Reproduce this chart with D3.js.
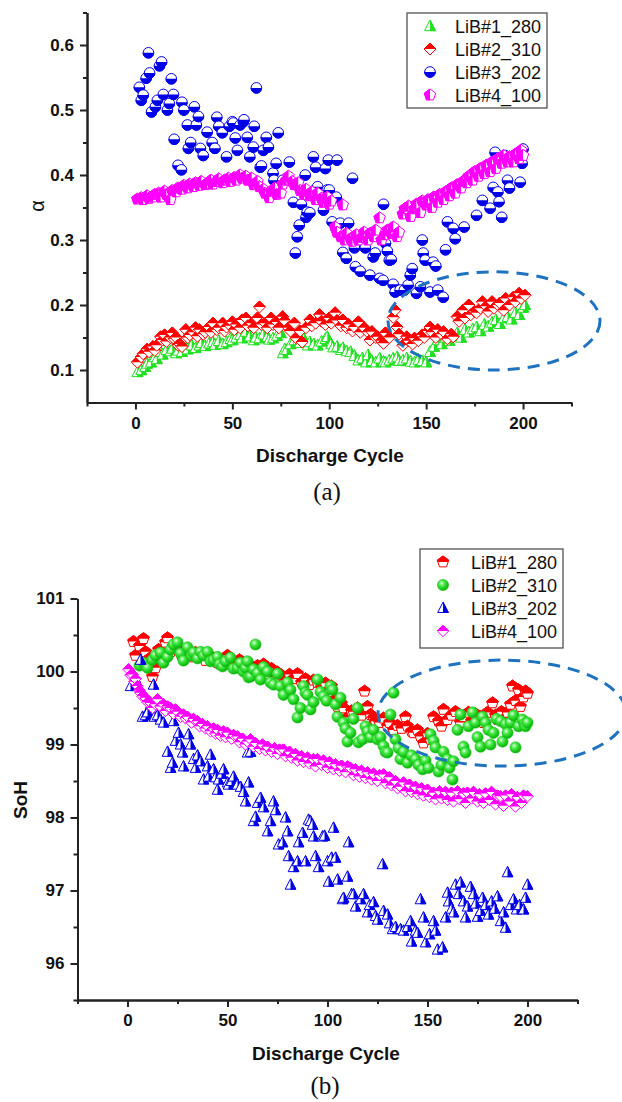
<!DOCTYPE html>
<html><head><meta charset="utf-8">
<script src="https://cdn.jsdelivr.net/npm/d3@7"></script>
<style>body{margin:0;background:#fff}svg{display:block}
text{font-family:'Liberation Sans', Arial, sans-serif;}
.tick text{font-weight:bold;}</style>
</head><body>
<svg id="chart" width="622" height="1102"></svg>
<script>
// ---------- tick labels / categories ----------
const cycleTicks = [0, 50, 100, 150, 200];
const cycleMinor = [-25, 25, 75, 125, 175, 225];
const alphaTicks = [0.1, 0.2, 0.3, 0.4, 0.5, 0.6];
const alphaMinor = [0.15, 0.25, 0.35, 0.45, 0.55, 0.65];
const sohTicks = [96, 97, 98, 99, 100, 101];
const sohMinor = [95.5, 96.5, 97.5, 98.5, 99.5, 100.5];
const batteryNames = ["LiB#1_280", "LiB#2_310", "LiB#3_202", "LiB#4_100"];

// ---------- (a) alpha vs discharge cycle ----------
const alphaLiB1 = [[1,.097],[3,.100],[5,.105],[6,.110],[8,.112],[10,.120],[11,.117],[13,.128],[14,.124],[16,.131],[18,.129],[19,.133],[21,.126],[22,.130],[24,.128],[26,.136],[27,.132],[29,.138],[31,.134],[33,.138],[34,.142],[36,.137],[38,.141],[40,.143],[41,.139],[43,.145],[45,.140],[47,.143],[49,.148],[50,.146],[52,.150],[54,.154],[55,.149],[57,.159],[59,.152],[61,.146],[62,.150],[64,.149],[66,.155],[68,.151],[69,.147],[71,.149],[73,.153],[75,.157],[76,.126],[77,.132],[78,.131],[80,.140],[82,.146],[84,.146],[85,.142],[87,.148],[89,.138],[90,.143],[92,.140],[94,.138],[96,.144],[98,.148],[99,.151],[101,.140],[102,.135],[104,.136],[106,.131],[107,.134],[109,.129],[111,.128],[113,.122],[115,.115],[117,.118],[119,.112],[120,.123],[122,.114],[124,.112],[126,.118],[128,.113],[129,.112],[131,.115],[133,.118],[135,.120],[136,.114],[138,.115],[140,.118],[142,.113],[144,.112],[146,.116],[148,.114],[150,.112],[152,.128],[154,.136],[156,.146],[158,.140],[160,.150],[162,.145],[164,.152],[166,.157],[168,.150],[170,.162],[172,.158],[174,.163],[176,.166],[178,.160],[180,.170],[182,.167],[184,.173],[186,.177],[188,.171],[190,.180],[192,.182],[194,.178],[196,.188],[198,.185],[200,.196],[201,.200]];
const alphaLiB2 = [[1,.112],[3,.120],[4,.125],[6,.132],[7,.128],[9,.136],[10,.130],[11,.138],[13,.151],[14,.146],[15,.154],[16,.144],[18,.150],[19,.157],[20,.148],[21,.150],[22,.138],[23,.140],[24,.136],[26,.162],[27,.150],[28,.154],[30,.158],[31,.165],[32,.152],[33,.162],[35,.155],[36,.158],[38,.166],[39,.158],[40,.172],[42,.162],[43,.165],[45,.172],[46,.160],[47,.166],[49,.168],[50,.174],[51,.162],[52,.170],[54,.165],[55,.177],[57,.180],[58,.168],[60,.172],[61,.165],[63,.180],[64,.197],[65,.170],[67,.172],[68,.165],[70,.180],[71,.170],[73,.174],[74,.165],[76,.182],[77,.176],[79,.165],[80,.160],[82,.172],[83,.149],[85,.160],[86,.143],[88,.165],[90,.177],[91,.168],[93,.172],[95,.185],[96,.175],[98,.170],[100,.180],[101,.172],[103,.188],[104,.176],[106,.168],[107,.177],[109,.165],[110,.170],[112,.160],[113,.166],[115,.174],[116,.158],[118,.165],[120,.158],[121,.146],[122,.159],[124,.150],[125,.151],[127,.145],[128,.141],[129,.157],[131,.150],[133,.181],[134,.192],[135,.166],[136,.155],[138,.138],[140,.151],[141,.145],[143,.140],[144,.149],[146,.145],[148,.154],[149,.150],[151,.160],[152,.166],[153,.158],[155,.150],[156,.162],[158,.155],[159,.159],[161,.148],[163,.155],[164,.151],[166,.182],[167,.175],[169,.192],[170,.180],[172,.200],[173,.185],[175,.190],[176,.188],[178,.195],[179,.205],[181,.198],[182,.190],[184,.205],[185,.195],[187,.200],[188,.203],[190,.192],[191,.210],[193,.200],[195,.212],[196,.205],[198,.218],[199,.210],[201,.215]];
const alphaLiB3 = [[2,.535],[3,.515],[4,.523],[5.5,.549],[6.7,.588],[7.3,.557],[8.3,.497],[10.3,.505],[11.3,.515],[12.4,.568],[13.5,.574],[14.4,.524],[16.5,.500],[17.5,.510],[18.5,.548],[19.6,.524],[20,.455],[22,.415],[23.7,.408],[24,.512],[25,.500],[26.8,.477],[27.3,.441],[28.5,.450],[30.4,.505],[31.4,.477],[32.5,.490],[33.5,.441],[35,.430],[37,.466],[39.6,.450],[41,.441],[42,.489],[43,.475],[44.8,.465],[47,.428],[48.5,.475],[50,.482],[50.5,.480],[51.5,.457],[52.6,.438],[54,.477],[55.7,.482],[56,.485],[57.7,.458],[59,.428],[60.8,.443],[61.3,.475],[62.4,.534],[64.4,.412],[65,.414],[66,.438],[67.5,.458],[68.6,.443],[71,.403],[71.5,.392],[72.6,.418],[73.7,.465],[75.8,.389],[76,.392],[79.4,.420],[81.5,.358],[82.5,.280],[83.5,.305],[84.5,.323],[85.6,.355],[87.6,.400],[88,.335],[88.6,.343],[90,.342],[91.8,.428],[93,.412],[94,.382],[97,.346],[98,.410],[99,.377],[99.5,.423],[100,.377],[101.5,.328],[103.6,.366],[104,.423],[105.7,.326],[107,.281],[108.8,.272],[110,.326],[112,.395],[113,.288],[113.5,.259],[116,.252],[118.6,.288],[121,.246],[122.7,.274],[123.7,.280],[126,.241],[127.8,.238],[128,.355],[129,.295],[130,.283],[131,.269],[132,.270],[133,.232],[134,.220],[136.6,.223],[138.7,.223],[140.7,.231],[141.8,.246],[142.8,.256],[145,.218],[147,.228],[148,.300],[148.5,.280],[149.5,.269],[152,.220],[153.6,.266],[155,.260],[156,.223],[158.8,.212],[160,.285],[161,.328],[164,.318],[165,.302],[169.6,.320],[176,.338],[179,.361],[183,.349],[184.6,.381],[185.6,.435],[187,.374],[187.6,.359],[189,.335],[190.7,.430],[192,.392],[193,.380],[197,.428],[198.5,.389],[199.5,.418],[200,.440]];
const alphaLiB4 = [[1,.363],[3,.365],[4,.362],[6,.368],[7,.364],[9,.366],[10,.370],[12,.372],[13,.366],[15,.375],[16,.370],[18,.362],[19,.376],[21,.374],[22,.380],[24,.378],[25,.384],[27,.380],[28,.386],[30,.382],[31,.388],[33,.384],[34,.390],[36,.385],[37,.387],[39,.392],[40,.386],[42,.390],[43,.394],[45,.388],[46,.392],[48,.395],[49,.390],[51,.396],[52,.392],[54,.400],[55,.395],[57,.398],[58,.392],[60,.395],[61,.385],[63,.390],[64,.382],[66,.378],[67,.372],[69,.365],[70,.375],[72,.380],[73,.370],[75,.372],[76,.386],[78,.392],[79,.398],[81,.390],[82,.385],[84,.388],[85,.376],[87,.370],[88,.378],[90,.368],[91,.374],[93,.362],[94,.372],[96,.364],[97,.358],[99,.366],[100,.355],[101,.360],[103,.320],[104,.312],[106,.305],[107,.354],[108,.300],[109,.310],[111,.302],[112,.298],[114,.308],[115,.300],[117,.304],[118,.312],[120,.300],[121,.310],[123,.305],[124,.315],[126,.334],[127,.300],[129,.308],[130,.315],[132,.310],[133,.320],[135,.305],[136,.312],[138,.340],[139,.348],[141,.352],[142,.336],[144,.348],[145,.355],[147,.342],[148,.360],[150,.354],[151,.362],[153,.350],[154,.366],[156,.358],[157,.370],[159,.362],[160,.374],[162,.368],[163,.380],[165,.372],[166,.385],[168,.380],[169,.390],[171,.388],[172,.398],[174,.392],[175,.405],[177,.398],[178,.410],[180,.402],[181,.415],[183,.405],[184,.420],[186,.410],[187,.425],[189,.418],[190,.430],[192,.420],[193,.428],[195,.420],[196,.432],[198,.425],[199,.438],[200,.430]];

// ---------- (b) SoH vs discharge cycle ----------
const sohLiB1 = [[3,100.41],[4,100.22],[6,100.35],[8,100.45],[9,100.27],[11,100.18],[12.5,99.93],[14,100.05],[15.5,100.30],[17,100.22],[19,100.40],[20,100.46],[21.5,100.27],[23,100.35],[25,100.30],[27,100.22],[28,100.25],[30,100.30],[32,100.20],[34,100.26],[35,100.20],[37,100.24],[39,100.15],[41,100.22],[43,100.18],[45,100.12],[47,100.16],[49,100.10],[50,100.22],[52,100.14],[54,100.08],[56,100.16],[58,100.05],[60,100.12],[61.5,100.07],[63,100.02],[65,100.08],[67,100.00],[68,100.10],[70,99.97],[72,100.04],[74,99.92],[75,99.99],[77,99.95],[79,99.88],[81,99.96],[83,99.90],[85,99.97],[87,99.85],[89,99.90],[91,99.82],[93,99.88],[95,99.85],[97,99.78],[99,99.84],[101,99.75],[102,99.80],[104,99.62],[105,99.52],[107,99.56],[108,99.50],[110,99.37],[112,99.46],[113,99.45],[115,99.50],[117,99.40],[118.5,99.73],[120,99.52],[121.5,99.41],[123,99.36],[124,99.32],[126,99.30],[128,99.36],[130,99.25],[131,99.30],[133,99.20],[135,99.26],[137,99.22],[139,99.38],[140,99.25],[142,99.18],[143,99.16],[145,99.20],[146.5,99.11],[148,99.02],[150,99.15],[151.5,99.07],[153,99.38],[155.5,99.32],[157,99.25],[158,99.48],[160,99.34],[162,99.40],[164,99.45],[166.5,99.30],[168,99.38],[170.5,99.44],[172,99.32],[174,99.42],[176.5,99.38],[178,99.30],[180,99.44],[182.5,99.57],[184,99.40],[185,99.34],[187,99.45],[189,99.36],[190,99.44],[191.5,99.55],[192.5,99.80],[194,99.60],[195.5,99.75],[196.5,99.52],[198,99.65],[199,99.73],[200,99.70]];
const sohLiB2 = [[6,100.08],[8,100.12],[10,100.05],[12.5,100.16],[14,100.22],[16.5,100.26],[18,100.12],[20,100.20],[21.5,100.30],[23,100.37],[25,100.40],[26.5,100.25],[28,100.15],[30,100.33],[32,100.22],[33,100.26],[35,100.18],[36.5,100.27],[38,100.22],[40,100.27],[41.5,100.14],[43,100.16],[45,100.20],[46,100.10],[47.5,100.07],[49,100.14],[51.5,100.19],[53,100.04],[55,100.05],[56.5,100.12],[58,100.00],[59,100.05],[60,100.14],[60.5,99.92],[61.5,99.93],[63,100.03],[64,100.37],[65,99.98],[66.5,99.89],[68,100.06],[70,100.00],[71.5,99.85],[73,99.82],[75,99.97],[76.5,99.80],[78,99.68],[80,99.85],[81.5,99.75],[83,99.62],[85,99.37],[86.5,99.50],[88,99.80],[89,99.71],[90,99.68],[91.5,99.48],[93,99.58],[95,99.89],[96.5,99.72],[98,99.66],[99.5,99.60],[101.5,99.80],[102.5,99.75],[104,99.55],[105,99.38],[106.5,99.64],[108,99.30],[109,99.22],[110,99.04],[111.5,99.16],[113,99.35],[115,99.50],[115.5,99.03],[117.5,99.07],[119,99.25],[120,99.18],[121.5,99.10],[123,99.20],[125,99.07],[126.5,99.10],[128,98.98],[129,98.90],[130,98.89],[131.5,99.41],[133,99.71],[134,99.07],[135.5,98.95],[136.5,98.80],[138,98.90],[140,98.75],[142,98.85],[144,98.80],[145.5,98.72],[147.5,98.66],[149,98.78],[150.5,98.68],[151.5,99.14],[153,99.05],[154,98.96],[155.5,98.63],[157,98.72],[158,98.90],[160,98.80],[161,98.68],[162.5,98.52],[163,98.77],[165,99.20],[166.5,99.41],[168,98.97],[169,98.89],[170.5,99.25],[172.5,99.44],[174,99.30],[175,99.10],[176.5,98.97],[177.5,99.38],[179,99.30],[180.5,99.20],[181.5,99.00],[183,99.16],[184.5,99.35],[186.5,99.32],[187.5,99.04],[189,99.28],[190,99.16],[191.5,99.30],[193,99.40],[194,98.96],[195.5,99.25],[197.5,99.34],[198.5,99.28],[199,99.25],[200,99.30]];
const sohLiB3 = [[1.5,99.80],[4,99.90],[6.5,100.16],[7.5,99.38],[9,99.40],[10,99.44],[11.5,99.55],[13,99.82],[13.5,99.38],[15,99.40],[16.5,99.34],[18,99.30],[20,98.90],[21.5,98.68],[22.5,98.75],[23,99.32],[24,99.05],[25.5,99.16],[26.5,99.00],[27.5,98.89],[28,98.70],[30.5,99.14],[31.5,99.00],[33,98.80],[34,98.68],[35,98.85],[36.5,98.77],[38,98.52],[40,98.70],[40.5,98.56],[41.5,98.86],[43,98.66],[44,98.55],[45,98.38],[45.5,98.52],[47,98.60],[48,98.66],[50,98.48],[50.5,98.45],[52,98.50],[53,98.56],[55,98.45],[56.5,98.42],[58,98.35],[59,98.22],[60,98.89],[60.5,98.48],[61.5,98.90],[63,97.95],[64,98.01],[65,98.20],[66.5,98.27],[68,98.14],[70,97.81],[71.5,97.95],[73,98.22],[74,98.10],[75.5,97.63],[77.5,97.66],[79,98.00],[80,97.81],[80.5,97.47],[81.5,97.08],[83,97.32],[85,97.40],[85.5,97.66],[87.5,97.79],[89,97.40],[90.5,97.97],[91.5,97.95],[92.5,97.90],[93,97.74],[94,97.47],[95.5,97.32],[97.5,97.74],[98.5,97.75],[100,97.40],[100.5,97.12],[102,97.45],[103,97.86],[104,97.45],[105,97.15],[107.5,96.88],[108,96.90],[110,97.19],[110.5,97.66],[112,96.95],[113,96.95],[114,96.78],[116.5,96.88],[118,96.95],[120,96.70],[121,96.80],[123,96.84],[124,96.65],[125,96.60],[127.5,97.36],[128,96.72],[130,96.67],[131,96.55],[132.5,96.47],[134,96.50],[136.5,96.47],[138,96.45],[140,96.50],[141.5,96.58],[142,96.30],[144,96.45],[145,96.42],[146.5,96.88],[148,96.63],[149,96.29],[151,96.40],[153,96.58],[154,96.45],[155,96.19],[157.5,96.22],[159,96.63],[160,96.97],[160.5,96.85],[162,96.75],[163,96.70],[164,97.08],[165.5,96.95],[166.5,97.11],[168,96.85],[169,96.63],[170,96.78],[171.5,97.05],[173,96.95],[174,96.82],[175,96.64],[176.5,96.72],[177.5,96.90],[179,96.80],[180.5,96.67],[182,96.85],[183.5,96.75],[185,96.92],[186.5,96.58],[188,96.70],[189,96.49],[190,97.25],[191.5,96.80],[193,96.88],[194.5,96.74],[196,96.80],[198,96.74],[199,96.90],[200,97.08]];
const sohLiB4 = [[0.5,100.03],[1.5,99.95],[2.5,99.96],[3.5,99.86],[4,99.90],[5,99.80],[6,99.74],[6.5,99.71],[7.5,99.66],[9,99.64],[10,99.58],[11.5,99.57],[12.5,99.50],[14,99.55],[15,99.62],[16.5,99.52],[18,99.55],[19,99.46],[20,99.52],[21.5,99.50],[23,99.42],[24,99.48],[25,99.45],[26.5,99.38],[28,99.41],[29,99.36],[30,99.38],[32,99.30],[33,99.35],[35,99.32],[36,99.25],[37.5,99.28],[39,99.22],[40,99.25],[41.5,99.18],[43,99.22],[44,99.15],[45,99.20],[46.5,99.12],[48,99.18],[49,99.10],[50,99.16],[52,99.08],[53,99.13],[55,99.11],[56,99.03],[57.5,99.08],[59,99.00],[60,99.04],[61.5,99.07],[63,98.97],[64,99.02],[66,98.94],[67.5,99.00],[69,98.92],[70,98.97],[72,98.90],[73.5,98.95],[75,98.87],[76,98.93],[78,98.93],[79,98.84],[81,98.90],[82,98.82],[84,98.87],[85,98.78],[87,98.84],[88,98.76],[90,98.82],[91,98.74],[93,98.80],[94,98.70],[95,98.80],[97,98.72],[98,98.78],[100,98.68],[101,98.76],[103,98.66],[104,98.73],[106,98.64],[107,98.71],[109,98.62],[110,98.70],[111.5,98.68],[113,98.58],[114,98.66],[116,98.56],[117,98.64],[119,98.54],[120,98.62],[122,98.52],[123,98.60],[125,98.50],[126,98.58],[128,98.59],[129,98.47],[131,98.55],[132,98.44],[134,98.50],[135,98.40],[136.5,98.42],[138,98.48],[139,98.36],[141,98.45],[142,98.35],[144,98.42],[145,98.32],[147,98.40],[148,98.30],[150,98.38],[151,98.28],[153,98.34],[154,98.25],[156,98.36],[157,98.26],[159,98.35],[160,98.24],[162,98.34],[163,98.22],[165,98.36],[166,98.25],[168,98.33],[169,98.20],[170,98.34],[172,98.26],[173,98.35],[175,98.22],[176,98.32],[178,98.20],[179,98.33],[181,98.24],[182,98.35],[184,98.18],[185,98.30],[186.5,98.29],[188,98.16],[189,98.30],[191,98.22],[192,98.32],[194,98.15],[195,98.28],[197,98.20],[198,98.30],[200,98.29]];

// highlighted regions (data units): [centre cycle, centre value, radius cycles, radius value]
const highlightA = [185, 0.1755, 54.7, 0.0755];
const highlightB = [187.3, 99.43, 62, 0.726];

// ---------- drawing ----------
const FONT = "'Liberation Sans', Arial, sans-serif";
const svg = d3.select("#chart");
svg.append("rect").attr("width", 622).attr("height", 1102).attr("fill", "#fff");
const defs = svg.append("defs");
[["cTop",-20,-20,40,20],["cBot",-20,0,40,20],["cLeft",-20,-20,20,40],["cRight",0,-20,20,40]].forEach(([id,x,y,w,h]) => {
  defs.append("clipPath").attr("id", id).attr("clipPathUnits", "userSpaceOnUse")
    .append("rect").attr("x", x).attr("y", y).attr("width", w).attr("height", h);
});
const grad = defs.append("radialGradient").attr("id", "sphere").attr("cx", "38%").attr("cy", "35%").attr("r", "65%");
grad.append("stop").attr("offset", "0%").attr("stop-color", "#eaffea");
grad.append("stop").attr("offset", "35%").attr("stop-color", "#4cec4c");
grad.append("stop").attr("offset", "100%").attr("stop-color", "#00b400");

function shapePath(type, r) {
  if (type === "triangle") return `M0,${-1.1*r}L${r},${0.85*r}L${-r},${0.85*r}Z`;
  if (type === "diamond") return `M0,${-r}L${r},0L0,${r}L${-r},0Z`;
  if (type === "circle") return `M${-r},0A${r},${r} 0 1 0 ${r},0A${r},${r} 0 1 0 ${-r},0Z`;
  if (type === "pentagon") {
    const pts = [-90, -18, 54, 126, 198].map(a => [r * Math.cos(a * Math.PI / 180), r * Math.sin(a * Math.PI / 180)]);
    return "M" + pts.map(p => p[0].toFixed(2) + "," + p[1].toFixed(2)).join("L") + "Z";
  }
}
function drawMarker(g, spec) {
  if (spec.shape === "sphere") {
    g.append("circle").attr("r", spec.size).attr("fill", "url(#sphere)").attr("stroke", "#1fbf1f").attr("stroke-width", 0.6);
    return;
  }
  const d = shapePath(spec.shape, spec.size);
  g.append("path").attr("d", d).attr("fill", "#fff").attr("stroke", spec.color).attr("stroke-width", 1);
  g.append("path").attr("d", d).attr("fill", spec.color).attr("stroke", spec.color).attr("stroke-width", 1).attr("clip-path", `url(#${spec.half})`);
}

const styleA = [
  {shape: "triangle", color: "#22e022", half: "cRight", size: 5.5},
  {shape: "diamond", color: "#ff0000", half: "cTop", size: 6},
  {shape: "circle", color: "#0000e6", half: "cBot", size: 5.3},
  {shape: "pentagon", color: "#ff00ff", half: "cLeft", size: 6}
];
const styleB = [
  {shape: "pentagon", color: "#ff0000", half: "cTop", size: 6},
  {shape: "sphere", color: "#22dd22", size: 5.6},
  {shape: "triangle", color: "#0000e6", half: "cRight", size: 5.3},
  {shape: "diamond", color: "#ff00ff", half: "cTop", size: 5.7}
];

function drawAxes(g, x, y, yMajor, yMinorVals, fmt) {
  const x0 = x.range()[0], y0 = y.range()[0];
  const gx1 = g.append("g").attr("transform", `translate(0,${y0})`)
    .call(d3.axisBottom(x).tickValues(cycleMinor).tickSize(4).tickFormat("").tickSizeOuter(0));
  const gx2 = g.append("g").attr("transform", `translate(0,${y0})`)
    .call(d3.axisBottom(x).tickValues(cycleTicks).tickSize(7).tickPadding(7).tickSizeOuter(0));
  const gy1 = g.append("g").attr("transform", `translate(${x0},0)`)
    .call(d3.axisLeft(y).tickValues(yMinorVals).tickSize(4).tickFormat("").tickSizeOuter(0));
  const gy2 = g.append("g").attr("transform", `translate(${x0},0)`)
    .call(d3.axisLeft(y).tickValues(yMajor).tickSize(7).tickPadding(6).tickFormat(fmt).tickSizeOuter(0));
  [gx1, gx2, gy1, gy2].forEach(a => {
    a.attr("font-family", FONT).attr("font-size", 17).attr("font-weight", "bold");
    a.select(".domain").attr("stroke", "#222").attr("stroke-width", 2);
    a.selectAll(".tick line").attr("stroke", "#222").attr("stroke-width", 2);
    a.selectAll(".tick text").attr("fill", "#111").attr("font-weight", "bold")
      .style("font-family", FONT).style("font-weight", "bold").style("font-size", "17px");
  });
}

function drawSeries(g, x, y, data, spec) {
  g.append("g").selectAll("g").data(data).join("g")
    .attr("transform", d => `translate(${x(d[0])},${y(d[1])})`)
    .each(function() { drawMarker(d3.select(this), spec); });
}

function drawEllipse(g, x, y, h) {
  g.append("ellipse")
    .attr("cx", x(h[0])).attr("cy", y(h[1]))
    .attr("rx", x(h[0] + h[2]) - x(h[0])).attr("ry", y(h[1]) - y(h[1] + h[3]))
    .attr("fill", "none").attr("stroke", "#1f72bd").attr("stroke-width", 3).attr("stroke-dasharray", "12,8");
}

function drawLegend(g, box, styles, names) {
  g.append("rect").attr("x", box.x).attr("y", box.y).attr("width", box.w).attr("height", box.h)
    .attr("fill", "#fff").attr("stroke", "#444").attr("stroke-width", 1.2);
  names.forEach((n, i) => {
    const cy = box.y + box.first + i * box.step;
    drawMarker(g.append("g").attr("transform", `translate(${box.x + box.mx},${cy})`), styles[i]);
    g.append("text").attr("x", box.x + box.tx).attr("y", cy + 6.5).text(n)
      .style("font-family", FONT).style("font-size", "18px").attr("fill", "#111");
  });
}

function label(g, x, y, txt, opts) {
  const t = g.append("text").attr("text-anchor", "middle").text(txt).attr("fill", "#111")
    .style("font-family", opts.family || FONT).style("font-size", opts.size + "px").style("font-weight", opts.weight || "400");
  if (opts.rotate) t.attr("transform", `translate(${x},${y}) rotate(-90)`); else t.attr("x", x).attr("y", y);
}

// ---- panel (a)
const xA = d3.scaleLinear().domain([-25, 225]).range([87, 571.5]);
const yA = d3.scaleLinear().domain([0.05, 0.65]).range([402.5, 12.5]);
const gA = svg.append("g");
drawAxes(gA, xA, yA, alphaTicks, alphaMinor, d3.format(".1f"));
[alphaLiB1, alphaLiB2, alphaLiB3, alphaLiB4].forEach((d, i) => drawSeries(gA, xA, yA, d, styleA[i]));
drawEllipse(gA, xA, yA, highlightA);
drawLegend(gA, {x: 407, y: 13, w: 140, h: 95, first: 13, step: 23, mx: 23, tx: 48}, styleA, batteryNames);
label(gA, 330, 462, "Discharge Cycle", {size: 19, weight: "700"});
label(gA, 44, 206, "α", {size: 20, rotate: true});
label(gA, 327, 500, "(a)", {size: 25, family: "'Liberation Serif', 'Times New Roman', serif"});

// ---- panel (b)
const xB = d3.scaleLinear().domain([-25, 225]).range([77.5, 577.5]);
const yB = d3.scaleLinear().domain([95.5, 101]).range([1000, 598.5]);
const gB = svg.append("g");
drawAxes(gB, xB, yB, sohTicks, sohMinor, d3.format("d"));
[sohLiB1, sohLiB2, sohLiB3, sohLiB4].forEach((d, i) => drawSeries(gB, xB, yB, d, styleB[i]));
drawEllipse(gB, xB, yB, highlightB);
drawLegend(gB, {x: 420, y: 549, w: 143, h: 99, first: 13, step: 23, mx: 23, tx: 51}, styleB, batteryNames);
label(gB, 326, 1060, "Discharge Cycle", {size: 19, weight: "700"});
label(gB, 27, 800, "SoH", {size: 19, weight: "700", rotate: true});
label(gB, 325, 1094, "(b)", {size: 25, family: "'Liberation Serif', 'Times New Roman', serif"});
</script>
</body></html>
